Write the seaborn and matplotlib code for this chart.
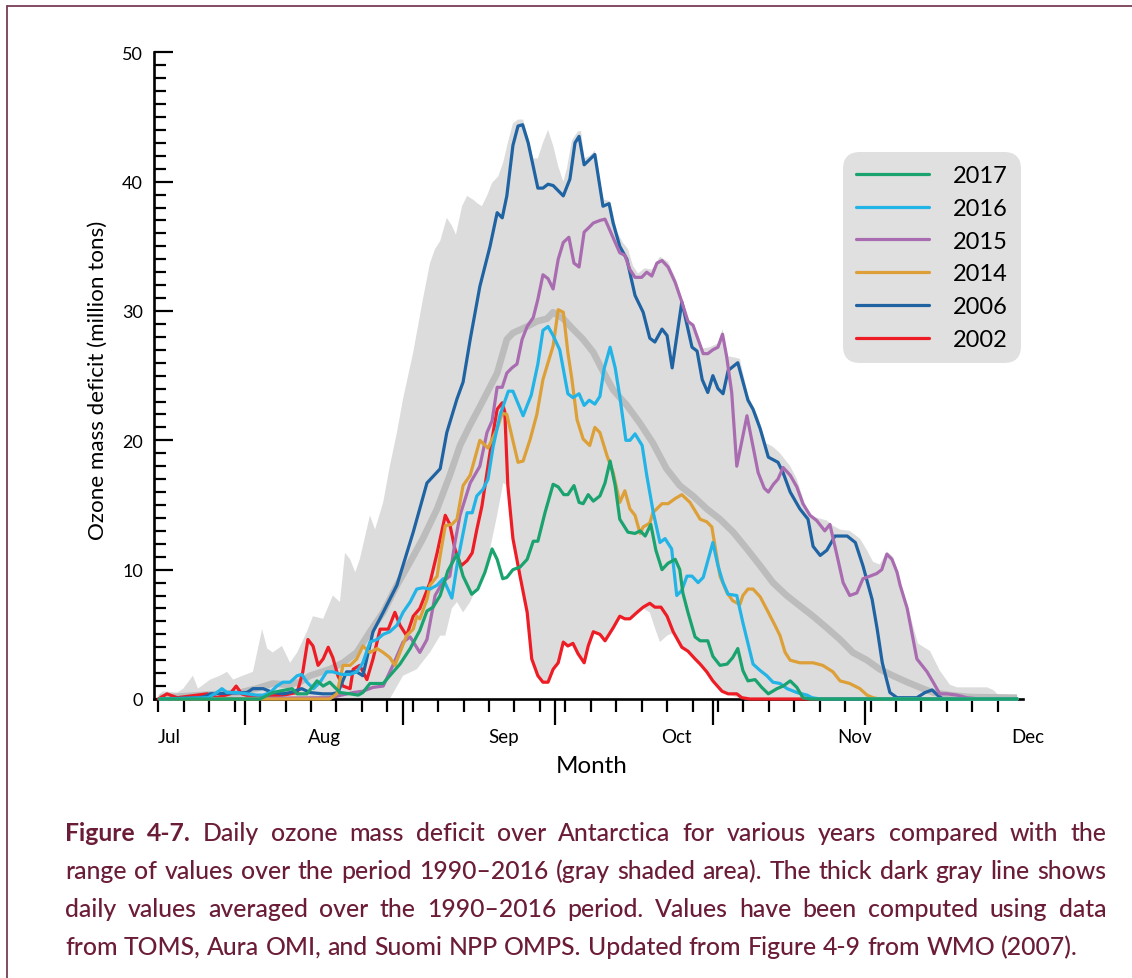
import matplotlib
matplotlib.use("Agg")
import matplotlib.pyplot as plt
import numpy as np
import pandas as pd
import seaborn as sns
from matplotlib.lines import Line2D
from matplotlib.font_manager import FontProperties
from matplotlib.ticker import FixedLocator, MultipleLocator

# x values are days counted from 15 July; y values are million tons
years = ["2017", "2016", "2015", "2014", "2006", "2002"]
year_colors = ["#1aa36f", "#22b4e6", "#a96cb0", "#dda038", "#1f63a2", "#ee1d25"]

range_max = [(0, 0.3), (0.9, 0.6), (3.7, 0.5), (4.9, 0.8), (6.8, 1.8), (7.8, 0.8), (10.2, 1.5),
             (12.1, 1.8), (13.5, 2.1), (14.7, 1.5), (16.6, 1.8), (18.6, 2.1), (20.4, 5.4), (21.4, 3.9),
             (22.5, 3.6), (24.3, 4.1), (25.9, 2.8), (27.3, 3.6), (29.2, 5.2), (30.4, 6.4), (32.4, 6.2),
             (34.3, 8.0), (35.7, 7.5), (36.7, 11.3), (37.7, 10.8), (38.7, 9.8), (39.6, 10.8), (41.6, 14.2),
             (42.6, 13.1), (44.2, 15.2), (45.5, 18.0), (46.9, 20.6), (48.1, 23.2), (50.1, 26.8), (52.0, 30.9),
             (53.4, 33.7), (54.4, 34.8), (55.4, 35.4), (56.7, 37.2), (57.7, 36.6), (58.5, 35.9), (59.7, 38.1),
             (60.7, 38.9), (61.9, 38.6), (62.8, 38.3), (63.6, 38.1), (64.6, 38.9), (65.6, 39.9), (66.8, 40.4),
             (67.8, 41.5), (68.7, 43.0), (69.7, 44.5), (70.7, 44.8), (71.7, 44.8), (72.7, 43.4), (73.7, 41.8),
             (74.6, 41.8), (75.6, 43.0), (76.6, 44.0), (77.6, 42.8), (78.6, 41.2), (79.6, 40.0), (80.3, 41.0),
             (81.3, 43.2), (82.5, 43.9), (83.1, 43.9), (83.7, 41.8), (84.8, 42.0), (85.8, 42.4), (86.8, 40.0),
             (87.6, 38.6), (88.8, 38.5), (90.2, 36.1), (91.3, 35.3), (92.3, 34.8), (93.3, 33.5), (94.3, 32.9),
             (95.6, 33.3), (97.0, 33.2), (98.6, 34.2), (100.2, 33.8), (101.6, 32.6), (102.9, 31.0), (104.1, 29.5),
             (105.5, 28.2), (106.9, 27.1), (108.4, 27.2), (110.0, 27.5), (110.9, 28.6), (111.9, 26.5),
             (113.3, 26.4), (114.3, 26.3), (115.9, 23.5), (117.9, 21.8), (119.4, 19.8), (120.8, 19.5),
             (122.2, 19.0), (124.2, 18.0), (125.5, 17.0), (127.5, 14.6), (128.7, 14.1), (131.4, 13.8),
             (132.6, 13.4), (134.0, 13.1), (135.9, 13.0), (137.9, 12.4), (139.3, 11.5), (140.5, 10.6),
             (141.8, 10.4), (143.2, 11.4), (144.4, 11.0), (146.4, 8.4), (147.7, 6.6), (149.3, 4.3),
             (151.7, 3.7), (153.6, 2.2), (155.6, 1.1), (157.0, 0.9), (159.5, 0.9), (162.9, 0.9),
             (164.1, 0.7), (165.4, 0.2), (168.8, 0.1)]

range_min = [(0, 0), (45.5, 0), (48.1, 1.8), (50.8, 2.3), (53.4, 3.6), (55.4, 4.9), (56.4, 4.9),
             (57.7, 7.0), (58.7, 7.5), (59.9, 6.7), (61.3, 7.5), (62.8, 8.8), (64.6, 10.3), (65.2, 11.6),
             (66.6, 14.2), (67.8, 16.7), (68.6, 16.5), (69.7, 12.3), (71.1, 9.4), (72.5, 6.5), (73.4, 3.0),
             (74.6, 1.7), (75.6, 1.2), (76.6, 1.2), (77.6, 2.2), (78.6, 2.7), (79.6, 4.3), (80.5, 4.0),
             (81.5, 4.2), (82.5, 3.4), (83.7, 2.7), (84.5, 4.0), (85.5, 5.1), (86.8, 4.9), (87.8, 4.4),
             (89.4, 5.4), (90.7, 6.3), (92.7, 6.1), (94.1, 6.6), (95.3, 7.0), (96.6, 6.7), (97.6, 5.5),
             (98.6, 4.4), (100.0, 4.9), (101.2, 5.1), (102.9, 3.9), (104.1, 3.6), (105.5, 3.0), (106.5, 2.6),
             (107.8, 2.0), (109.0, 1.3), (110.8, 0.5), (112.4, 0.3), (114.7, 0), (168.8, 0)]

mean_1990_2016 = [(0.3, 0.1), (8.2, 0.3), (16.1, 0.5), (19.2, 0.8), (22.5, 1.2), (25.3, 1.1), (27.8, 1.3),
                  (29.8, 1.8), (33.7, 2.3), (36.3, 2.8), (39.0, 3.6), (41.6, 5.2), (44.2, 6.7), (46.9, 8.8),
                  (49.5, 10.6), (52.0, 12.4), (54.8, 14.7), (57.3, 17.3), (59.3, 19.6), (61.3, 21.2),
                  (63.2, 22.6), (66.6, 25.2), (68.5, 27.8), (69.7, 28.3), (72.5, 28.8), (74.4, 29.2),
                  (76.4, 29.4), (77.6, 29.9), (79.6, 29.4), (81.5, 28.6), (83.5, 27.8), (85.5, 26.8),
                  (87.2, 25.5), (89.4, 23.9), (92.1, 22.7), (94.7, 21.3), (97.2, 19.8), (99.9, 17.8),
                  (102.5, 16.5), (105.1, 15.7), (107.8, 14.7), (110.4, 13.9), (113.0, 12.9), (115.7, 11.6),
                  (118.3, 10.3), (120.8, 9.0), (123.5, 8.0), (126.1, 7.2), (128.7, 6.4), (131.4, 5.5),
                  (134.0, 4.6), (136.5, 3.6), (139.3, 3.0), (141.8, 2.3), (144.4, 1.8), (147.2, 1.3),
                  (150.3, 0.8), (152.3, 0.5), (155.6, 0.3), (159.5, 0.15), (168.8, 0.1)]

deficit_2017 = [(0.3, 0), (20.0, 0), (22.5, 0.5), (26.3, 0.8), (27.3, 0.4), (29.2, 0.4), (31.2, 1.4),
                (32.4, 1.0), (33.7, 1.3), (35.7, 0.5), (37.7, 0.4), (39.3, 0.3), (40.2, 0.5), (41.6, 1.2),
                (44.2, 1.2), (45.5, 1.8), (47.5, 2.7), (49.5, 3.9), (51.4, 5.3), (52.8, 6.8), (54.0, 7.1),
                (55.4, 8.0), (56.9, 9.9), (58.7, 11.2), (59.9, 9.5), (61.6, 8.1), (62.8, 8.5), (64.2, 9.8),
                (65.6, 11.6), (66.6, 10.8), (67.7, 9.3), (68.5, 9.4), (69.7, 10.0), (71.1, 10.2), (72.5, 10.8),
                (73.7, 12.2), (74.6, 12.2), (76.0, 14.4), (77.6, 16.6), (78.6, 16.4), (79.7, 15.8),
                (80.5, 15.8), (81.7, 16.5), (82.7, 15.2), (83.5, 15.1), (84.5, 15.8), (85.5, 15.3),
                (86.8, 15.7), (87.8, 16.7), (88.8, 18.4), (89.8, 16.5), (90.7, 13.9), (92.3, 12.9),
                (93.7, 12.8), (94.7, 13.0), (95.7, 12.6), (96.8, 13.5), (97.8, 11.5), (99.0, 10.0),
                (100.2, 10.5), (101.6, 10.8), (102.5, 10.0), (103.1, 8.2), (104.1, 6.7), (105.5, 4.8),
                (106.5, 4.5), (108.0, 4.5), (109.0, 3.3), (110.4, 2.6), (111.8, 2.7), (112.9, 3.2),
                (113.9, 3.9), (114.9, 2.2), (115.9, 1.4), (117.3, 1.5), (118.6, 0.9), (119.9, 0.4),
                (121.6, 0.8), (122.8, 1.0), (124.2, 1.4), (125.5, 0.9), (126.7, 0.1), (128.1, 0), (168.8, 0)]

deficit_2016 = [(0.3, 0), (9.8, 0.1), (11.5, 0.5), (12.5, 0.8), (13.5, 0.5), (15.5, 0.5), (17.4, 0.4),
                (19.4, 0.3), (20.6, 0.3), (22.0, 0.5), (23.3, 1.0), (24.5, 1.3), (25.9, 1.3), (27.3, 1.8),
                (28.2, 1.9), (29.2, 1.3), (30.5, 0.8), (31.8, 1.3), (33.1, 2.1), (34.3, 2.1), (36.0, 1.9),
                (37.7, 1.9), (39.0, 2.1), (40.2, 2.8), (41.6, 4.4), (43.0, 4.6), (44.2, 5.0), (45.5, 5.2),
                (46.9, 5.7), (48.1, 6.7), (49.5, 7.5), (50.8, 8.5), (52.0, 8.6), (53.4, 8.5), (54.8, 8.8),
                (56.0, 9.3), (57.7, 7.8), (58.9, 10.8), (59.7, 12.4), (60.7, 14.4), (61.7, 14.4),
                (62.6, 15.7), (63.8, 16.2), (64.8, 17.0), (65.8, 19.5), (67.2, 22.0), (68.8, 23.8),
                (69.7, 23.8), (71.7, 21.9), (73.3, 23.5), (74.6, 25.9), (75.6, 28.5), (76.6, 28.8),
                (77.6, 28.1), (78.9, 27.0), (80.5, 23.6), (81.5, 23.3), (82.7, 23.6), (83.7, 22.7),
                (84.7, 23.1), (85.8, 22.8), (86.8, 23.4), (87.6, 25.5), (88.8, 27.2), (89.8, 25.6),
                (90.7, 23.4), (91.9, 20.0), (92.7, 20.0), (93.7, 20.5), (95.1, 19.6), (96.0, 17.3),
                (97.3, 14.4), (98.6, 12.1), (99.6, 12.4), (100.9, 11.6), (101.9, 8.0), (102.9, 8.4),
                (103.9, 9.5), (104.9, 9.5), (106.1, 9.0), (107.1, 9.4), (109.0, 12.1), (110.0, 10.3),
                (111.0, 9.0), (112.0, 8.1), (113.7, 8.0), (114.9, 5.9), (116.9, 2.7), (118.3, 2.2),
                (119.6, 1.8), (120.8, 1.3), (122.2, 1.2), (123.6, 0.8), (125.5, 0.5), (127.5, 0.3),
                (128.5, 0.1), (130.1, 0), (168.8, 0)]

deficit_2015 = [(0.3, 0), (33.7, 0.1), (38.3, 0.5), (40.2, 0.6), (42.2, 0.9), (44.2, 1.0), (46.1, 2.6),
                (48.1, 4.4), (49.5, 4.8), (51.4, 3.6), (52.8, 4.6), (54.4, 8.0), (56.0, 9.1), (57.3, 9.5),
                (58.3, 12.1), (59.3, 14.2), (61.3, 16.7), (63.2, 18.0), (64.6, 20.6), (65.6, 21.5),
                (66.6, 24.1), (67.6, 24.1), (68.5, 25.2), (69.5, 25.6), (70.5, 25.9), (71.5, 27.8),
                (72.5, 28.8), (73.7, 29.5), (74.6, 30.9), (75.6, 32.8), (76.6, 32.5), (77.6, 31.7),
                (78.6, 34.0), (79.6, 35.3), (80.7, 35.7), (81.7, 33.7), (82.7, 33.4), (83.7, 36.1),
                (84.5, 36.4), (85.5, 36.8), (86.8, 37.0), (87.8, 37.1), (88.8, 36.2), (89.8, 35.3),
                (90.7, 34.5), (91.7, 34.3), (92.7, 33.2), (93.7, 32.6), (95.0, 32.6), (96.0, 33.0),
                (97.0, 32.7), (98.0, 33.7), (99.0, 33.9), (100.2, 33.4), (101.6, 32.2), (102.9, 30.7),
                (104.1, 29.2), (105.1, 28.9), (106.1, 27.8), (107.1, 26.7), (108.0, 26.7), (109.0, 27.0),
                (110.0, 27.2), (110.9, 28.2), (111.7, 26.5), (112.7, 23.7), (113.7, 18.0), (115.7, 21.9),
                (117.9, 17.5), (119.1, 16.3), (119.9, 16.0), (120.9, 16.6), (121.8, 17.0), (122.8, 17.9),
                (124.2, 17.3), (125.5, 16.4), (126.7, 15.1), (128.1, 14.2), (129.4, 13.8), (131.0, 13.0),
                (132.0, 13.5), (133.4, 11.1), (134.6, 9.0), (135.9, 8.0), (137.3, 8.2), (138.5, 9.3),
                (139.9, 9.5), (141.2, 9.7), (142.2, 10.0), (143.2, 11.2), (144.2, 10.8), (145.2, 9.8),
                (145.8, 8.8), (147.2, 7.0), (149.1, 3.1), (151.1, 2.1), (152.3, 1.3), (153.6, 0.4),
                (155.0, 0.4), (157.0, 0.3), (158.9, 0.1), (161.5, 0), (168.8, 0)]

deficit_2014 = [(0.3, 0), (33.7, 0), (35.1, 0.4), (36.3, 2.6), (37.7, 2.6), (39.0, 3.1), (40.2, 4.1),
                (41.6, 3.6), (43.0, 3.9), (44.2, 3.6), (45.5, 3.2), (46.5, 2.6), (46.9, 3.0), (48.8, 4.9),
                (50.1, 5.4), (50.8, 6.4), (51.4, 6.2), (52.8, 7.7), (53.4, 8.8), (54.8, 9.5), (55.4, 11.1),
                (56.4, 13.4), (57.7, 13.5), (58.7, 13.9), (59.9, 16.5), (61.3, 17.3), (63.2, 20.0),
                (64.8, 19.4), (66.6, 20.9), (67.6, 22.1), (68.5, 22.0), (69.5, 20.3), (70.7, 18.3),
                (71.7, 18.4), (73.1, 20.1), (74.4, 22.0), (75.6, 24.7), (77.6, 27.3), (78.6, 30.1),
                (79.6, 29.9), (80.5, 26.8), (81.3, 24.7), (82.3, 21.6), (83.5, 20.1), (84.8, 19.6),
                (85.8, 21.0), (86.8, 20.6), (88.2, 18.8), (89.4, 17.5), (90.7, 15.2), (91.7, 16.1),
                (92.7, 14.7), (93.7, 14.2), (94.7, 12.8), (95.3, 13.3), (96.6, 13.6), (97.2, 14.4),
                (99.0, 15.1), (100.2, 15.1), (101.6, 15.5), (102.9, 15.8), (104.5, 15.2), (106.5, 13.9),
                (107.8, 13.7), (108.8, 13.3), (110.4, 9.5), (111.8, 8.2), (112.9, 7.6), (114.3, 7.3),
                (114.9, 8.0), (115.9, 8.5), (116.9, 8.5), (118.3, 7.9), (119.9, 6.7), (121.2, 5.7),
                (122.2, 4.9), (123.2, 3.6), (124.2, 3.0), (126.1, 2.8), (128.7, 2.8), (130.6, 2.6),
                (132.6, 2.1), (134.0, 1.4), (135.9, 1.2), (137.9, 0.8), (139.3, 0.3), (140.5, 0.1),
                (141.8, 0), (168.8, 0)]

deficit_2006 = [(0.3, 0), (8.0, 0.1), (9.2, 0.2), (10.2, 0.4), (17.4, 0.5), (18.6, 0.8), (20.6, 0.8),
                (22.5, 0.5), (24.5, 0.4), (25.9, 0.5), (28.2, 0.8), (29.8, 0.5), (32.3, 0.4), (34.1, 0.4),
                (35.3, 0.5), (37.0, 2.1), (39.0, 2.1), (40.2, 1.8), (42.2, 5.2), (44.2, 6.7), (46.9, 8.8),
                (50.1, 12.9), (52.8, 16.7), (55.4, 17.8), (56.7, 20.6), (58.7, 23.2), (59.9, 24.5),
                (61.3, 27.8), (63.2, 31.9), (65.2, 35.0), (66.6, 37.6), (67.6, 37.2), (68.5, 38.9),
                (69.7, 42.8), (70.7, 44.3), (71.6, 44.4), (72.7, 43.0), (74.6, 39.5), (75.6, 39.5),
                (76.6, 39.8), (77.6, 39.7), (79.6, 38.9), (80.9, 40.2), (81.9, 43.0), (82.7, 43.5),
                (83.7, 41.3), (85.8, 42.1), (87.4, 38.1), (88.6, 38.3), (89.4, 36.8), (90.7, 35.0),
                (92.1, 34.0), (93.7, 31.2), (95.3, 29.9), (96.6, 27.9), (97.6, 27.6), (99.0, 28.6),
                (100.0, 28.1), (101.0, 25.6), (102.9, 30.7), (104.9, 27.2), (105.9, 26.9), (106.9, 24.7),
                (108.0, 23.7), (109.0, 25.0), (110.0, 24.0), (111.0, 23.6), (112.0, 25.4), (113.9, 26.0),
                (115.9, 23.1), (116.9, 22.4), (118.3, 20.9), (119.9, 18.7), (121.8, 18.3), (122.8, 17.5),
                (124.2, 16.0), (126.1, 14.7), (127.7, 13.9), (128.7, 11.8), (130.1, 11.1), (131.4, 11.5),
                (133.0, 12.6), (135.4, 12.6), (137.0, 12.1), (138.5, 10.3), (140.3, 7.7), (141.3, 5.4),
                (142.3, 2.8), (143.8, 0.5), (145.2, 0.1), (149.1, 0.1), (150.7, 0.5), (152.1, 0.7),
                (153.3, 0.25), (154.2, 0), (168.8, 0)]

deficit_2002 = [(0, 0), (1.7, 0.4), (3.7, 0.1), (7.6, 0.3), (9.6, 0.4), (11.5, 0.1), (14.1, 0.4),
                (15.3, 1.0), (16.4, 0.4), (18.0, 0.2), (20.6, 0.2), (24.5, 0.3), (27.3, 0.5), (28.4, 2.1),
                (29.4, 4.6), (30.4, 4.1), (31.4, 2.6), (32.4, 3.1), (33.4, 4.0), (34.3, 3.2), (35.3, 1.8),
                (36.3, 1.0), (37.7, 0.8), (38.3, 2.3), (39.6, 2.6), (41.0, 1.5), (42.2, 3.1), (43.6, 5.4),
                (45.2, 5.4), (46.5, 6.7), (47.5, 5.7), (48.8, 4.9), (50.1, 6.4), (51.4, 7.0), (53.4, 9.0),
                (54.8, 11.3), (56.4, 14.2), (57.3, 13.5), (58.3, 11.6), (59.5, 10.3), (60.7, 10.7),
                (61.7, 11.3), (62.6, 13.1), (63.6, 14.9), (64.6, 17.5), (65.6, 20.1), (66.6, 22.4),
                (67.6, 22.9), (68.1, 22.2), (68.7, 16.5), (69.7, 12.4), (71.1, 9.5), (72.5, 6.7), (73.4, 3.1),
                (74.6, 1.8), (75.6, 1.3), (76.6, 1.3), (77.6, 2.3), (78.6, 2.8), (79.6, 4.4), (80.5, 4.1),
                (81.5, 4.3), (82.5, 3.5), (83.7, 2.8), (84.5, 4.1), (85.5, 5.2), (86.8, 5.0), (87.8, 4.5),
                (89.4, 5.5), (90.7, 6.4), (91.7, 6.2), (92.7, 6.2), (94.1, 6.7), (95.3, 7.1), (96.6, 7.4),
                (97.6, 7.1), (98.8, 7.1), (100.0, 6.4), (101.2, 5.2), (102.9, 4.0), (104.1, 3.7),
                (105.5, 3.1), (106.5, 2.7), (107.8, 2.1), (109.0, 1.4), (110.8, 0.6), (112.0, 0.4),
                (113.7, 0.4), (114.7, 0.1), (116.3, 0), (168.8, 0)]

year_series = {"2017": deficit_2017, "2016": deficit_2016, "2015": deficit_2015,
               "2014": deficit_2014, "2006": deficit_2006, "2002": deficit_2002}

# month starts (1 Aug ... 1 Dec) and month names under the axis
month_start_day = [17, 48, 78, 109, 139]
month_names = ["Jul", "Aug", "Sep", "Oct", "Nov", "Dec"]
month_name_day = [2.1, 32.6, 67.9, 101.9, 136.9, 170.8]

caption_lines = [
    "Figure 4-7. Daily ozone mass deficit over Antarctica for various years compared with the",
    "range of values over the period 1990\u20132016 (gray shaded area). The thick dark gray line shows",
    "daily values averaged over the 1990\u20132016 period. Values have been computed using data",
    "from TOMS, Aura OMI, and Suomi NPP OMPS. Updated from Figure 4-9 from WMO (2007).",
]

# ---------------------------------------------------------------- figure
sns.set_theme(style="ticks")
FAMILY = ["Lato", "DejaVu Sans"]
plt.rcParams["font.family"] = FAMILY
plt.rcParams["text.color"] = "black"

W, H = 1132, 979
fig = plt.figure(figsize=(W / 100, H / 100), dpi=100)
fig.patch.set_facecolor("white")
ax = fig.add_axes([154 / W, 1 - 700 / H, (1022.7 - 154) / W, (700 - 53.3) / H])
ax.set_facecolor("white")
ax.set_xlim(-0.85, 169.9)
ax.set_ylim(0, 50)

# 1990-2016 range as a shaded band
hi = np.array(range_max)
lo = np.array(range_min)
ax.fill(np.r_[hi[:, 0], lo[::-1, 0]], np.r_[hi[:, 1], lo[::-1, 1]],
        color="#dcdcdc", lw=0, zorder=1)

# 1990-2016 mean
mean_arr = np.array(mean_1990_2016)
sns.lineplot(x=mean_arr[:, 0], y=mean_arr[:, 1], ax=ax, color="#bcbcbd", lw=4.8,
             estimator=None, zorder=2, solid_capstyle="butt")

# individual years, green drawn last so it sits on top
draw_order = ["2002", "2006", "2015", "2014", "2016", "2017"]
rows = []
for yr in draw_order:
    for d, v in year_series[yr]:
        rows.append((yr, d, v))
df = pd.DataFrame(rows, columns=["year", "day", "deficit"])
palette = dict(zip(years, year_colors))
for k, yr in enumerate(draw_order):
    sub = df[df["year"] == yr]
    sns.lineplot(data=sub, x="day", y="deficit", ax=ax, color=palette[yr], lw=2.3,
                 estimator=None, clip_on=False, zorder=4 + k)

# axes styling
for side in ["top", "right"]:
    ax.spines[side].set_visible(False)
for side in ["left", "bottom"]:
    ax.spines[side].set_linewidth(1.9)
    ax.spines[side].set_color("black")
    ax.spines[side].set_zorder(3)
ax.grid(False)

ax.xaxis.set_major_locator(FixedLocator(month_start_day))
ax.xaxis.set_minor_locator(MultipleLocator(5))
ax.tick_params(axis="x", which="major", direction="out", length=18.5, width=1.6,
               color="black", labelbottom=False)
ax.tick_params(axis="x", which="minor", direction="out", length=9.2, width=1.6, color="black")
ax.yaxis.set_major_locator(MultipleLocator(10))
ax.yaxis.set_minor_locator(MultipleLocator(1))
ax.tick_params(axis="y", which="major", direction="in", length=13.5, width=1.6,
               color="black", labelsize=13, pad=8, labelcolor="black")
ax.tick_params(axis="y", which="minor", direction="in", length=8.4, width=1.6, color="black")

for name, d in zip(month_names, month_name_day):
    ax.text(d, -0.066, name, transform=ax.get_xaxis_transform(), ha="center",
            va="baseline", fontsize=13.5, color="black", clip_on=False)

renderer = fig.canvas.get_renderer()


def text_width(s, size, weight="normal"):
    fp = FontProperties(family=FAMILY, size=size, weight=weight)
    w, _, _ = renderer.get_text_width_height_descent(s, fp, ismath=False)
    return w


ylab = "Ozone mass deficit (million tons)"
ylab_fs = 10 * 318 / text_width(ylab, 10)
ax.set_ylabel(ylab, fontsize=ylab_fs, color="black")
ax.yaxis.label.set_verticalalignment("baseline")
ax.yaxis.set_label_coords((104 - 154) / 868.7, (700 - 380) / 646.7)

xlab = "Month"
xlab_fs = 10 * 72 / text_width(xlab, 10)
ax.set_xlabel(xlab, fontsize=xlab_fs, color="black")
ax.xaxis.label.set_verticalalignment("baseline")
ax.xaxis.set_label_coords((592 - 154) / 868.7, (700 - 773) / 646.7)

# legend
handles = [Line2D([0], [0], color=c, lw=2.3) for c in year_colors]
leg = ax.legend(handles, years, loc="upper left", bbox_to_anchor=(843 / W, 1 - 153 / H),
                bbox_transform=fig.transFigure, fontsize=17, frameon=True, fancybox=True,
                facecolor="#e0e0e0", edgecolor="#e0e0e0", framealpha=1, handlelength=3.1,
                handletextpad=1.0, borderpad=0.55, labelspacing=0.5, borderaxespad=0)
leg.get_frame().set_boxstyle("round,pad=0,rounding_size=0.7")
leg.get_frame().set_linewidth(0)

# caption, justified like a printed figure caption
cap_color = "#6b1c39"
x_left, x_right_full, x_right_last = 65, 1106, 1078
baselines = [841, 879, 917, 955]


def line_words(i, line):
    words = line.split(" ")
    weights = ["bold" if (i == 0 and j < 2) else "medium" for j in range(len(words))]
    return words, weights


def natural_width(i, line, size):
    words, weights = line_words(i, line)
    sp = text_width("n n", size) - text_width("nn", size)
    return sum(text_width(w, size, wt) for w, wt in zip(words, weights)) + sp * (len(words) - 1)


targets = [x_right_full - x_left] * 3 + [x_right_last - x_left]
scale = min(t / natural_width(i, l, 10) for i, (l, t) in enumerate(zip(caption_lines, targets)))
cap_fs = 10 * scale
space_w = text_width("n n", cap_fs) - text_width("nn", cap_fs)

for i, line in enumerate(caption_lines):
    words, weights = line_words(i, line)
    widths = [text_width(w, cap_fs, wt) for w, wt in zip(words, weights)]
    if i < 3:
        gap = (targets[i] - sum(widths)) / (len(words) - 1)
    else:
        gap = space_w
    x = x_left
    for w, wt, ww in zip(words, weights, widths):
        fig.text(x / W, 1 - baselines[i] / H, w, fontsize=cap_fs, weight=wt, color=cap_color,
                 ha="left", va="baseline")
        x += ww + gap

# page frame (top and left rules)
frame_col = "#7a3d58"
fig.add_artist(Line2D([7 / W, 1], [1 - 7 / H, 1 - 7 / H], transform=fig.transFigure,
                      color=frame_col, lw=1.3))
fig.add_artist(Line2D([7 / W, 7 / W], [0, 1 - 7 / H], transform=fig.transFigure,
                      color=frame_col, lw=1.3))

fig.savefig("out.png", dpi=100, facecolor="white")
